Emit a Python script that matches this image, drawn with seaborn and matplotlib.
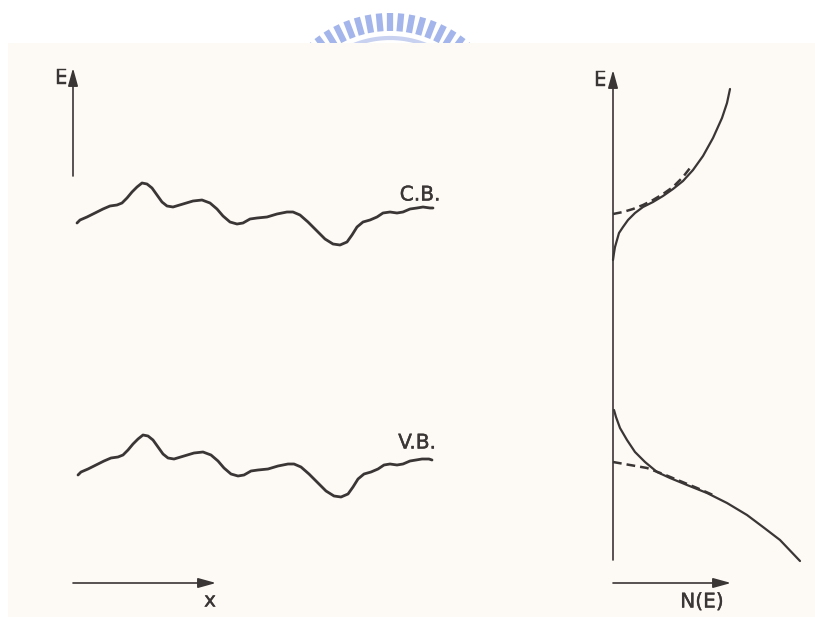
import numpy as np
import pandas as pd
import matplotlib
matplotlib.use("Agg")
import matplotlib.pyplot as plt
import matplotlib.patheffects as pe
import seaborn as sns
from matplotlib.patches import Rectangle

# ---------------- data (pixel units) ----------------
# conduction band edge along x
cb_x = [77, 80, 87, 95, 103, 110, 117, 122, 127, 132, 137, 142, 147, 152, 157,
        162, 167, 173, 183, 193, 202, 210, 217, 223, 230, 237, 243, 250, 257,
        267, 277, 287, 293, 300, 308, 317, 325, 333, 340, 347, 352, 357, 363,
        370, 377, 383, 390, 397, 403, 410, 417, 423, 430, 433]
cb_y = [223, 220, 217, 213, 209, 206, 205, 203, 198, 192, 187, 183, 184, 188,
        195, 202, 206, 207, 204, 201, 200, 203, 209, 216, 222, 224, 223, 219,
        218, 217, 214, 212, 212, 215, 222, 231, 239, 244, 245, 242, 235, 227,
        222, 220, 217, 213, 212, 213, 212, 209, 208, 207, 208, 208]
# valence band edge along x (same fluctuations, lower)
vb_x = [78, 81, 88, 96, 104, 111, 118, 123, 128, 133, 138, 143, 148, 153, 158,
        163, 168, 174, 184, 194, 203, 211, 218, 224, 231, 238, 244, 251, 258,
        268, 278, 288, 294, 301, 309, 318, 326, 334, 341, 348, 353, 358, 364,
        371, 378, 384, 390, 397, 403, 410, 416, 422, 429, 432]
vb_y = [475, 472, 469, 465, 461, 458, 457, 455, 450, 444, 439, 435, 436, 440,
        447, 454, 458, 459, 456, 453, 452, 455, 461, 468, 474, 476, 475, 471,
        470, 469, 466, 464, 464, 467, 474, 483, 491, 496, 497, 494, 487, 479,
        474, 472, 469, 465, 464, 465, 464, 461, 460, 459, 459, 460]

# density of states (right panel): N horizontal, E vertical
cbt_n = [613, 614, 615, 617, 619, 623, 628, 635, 643, 653, 663, 673, 683, 693,
         703, 713, 722, 727, 730]
cbt_e = [260, 253, 247, 240, 233, 227, 220, 213, 207, 202, 196, 189, 181, 170,
         156, 138, 118, 103, 89]
cbp_n = [613, 623, 633, 643, 653, 663, 673, 683, 690]
cbp_e = [214, 212, 209, 205, 200, 194, 187, 177, 168]
vbt_n = [614, 616, 620, 627, 635, 645, 657, 670, 687, 707, 727, 747, 763, 780,
         800]
vbt_e = [410, 417, 428, 440, 452, 462, 472, 478, 485, 493, 503, 515, 527, 540,
         561]
vbp_n = [613, 630, 647, 663, 680, 697, 713]
vbp_e = [462, 465, 468, 474, 481, 488, 495]

labels = {"cb": "C.B.", "vb": "V.B.", "e": "E", "x": "x", "ne": "N(E)"}

# ---------------- figure ----------------
sns.set_theme(style="white")
plt.rcParams["font.family"] = ["DejaVu Sans"]

W, H = 815, 617
fig = plt.figure(figsize=(W / 100, H / 100), dpi=100)
fig.patch.set_facecolor("white")
ax = fig.add_axes([0, 0, 1, 1])
ax.set_xlim(0, W)
ax.set_ylim(H, 0)
ax.axis("off")

ink = "#3b3636"

# watermark arc (logo) at top
cx, cy = 390, 135
for a in np.linspace(np.radians(48), np.radians(132), 17):
    ax.plot([cx + 104 * np.cos(a), cx + 122 * np.cos(a)],
            [cy - 104 * np.sin(a), cy - 122 * np.sin(a)],
            color="#a3b5ea", lw=4.5, solid_capstyle="butt", zorder=1)
aa = np.linspace(np.radians(46), np.radians(134), 80)
ax.plot(cx + 97 * np.cos(aa), cy - 97 * np.sin(aa), color="#c8d2f0", lw=3, zorder=1)

# cream page
ax.add_patch(Rectangle((8, 43), W - 8, H - 43, facecolor="#fdf9f5",
                       edgecolor="none", zorder=2))

# left panel: band edges
for xs, ys in [(cb_x, cb_y), (vb_x, vb_y)]:
    df = pd.DataFrame({"x": xs, "y": ys})
    sns.lineplot(data=df, x="x", y="y", sort=False, estimator=None,
                 color=ink, lw=2.0, ax=ax, zorder=5,
                 solid_joinstyle="round", solid_capstyle="round")

# right panel: DOS curves
for ns, es, dashed in [(cbt_n, cbt_e, False), (cbp_n, cbp_e, True),
                       (vbt_n, vbt_e, False), (vbp_n, vbp_e, True)]:
    df = pd.DataFrame({"n": ns, "e": es})
    if dashed:
        sns.lineplot(data=df, x="n", y="e", sort=False, estimator=None,
                     color=ink, lw=1.8, linestyle=(0, (3.5, 2)),
                     ax=ax, zorder=5)
    else:
        sns.lineplot(data=df, x="n", y="e", sort=False, estimator=None,
                     color=ink, lw=1.6, ax=ax, zorder=5,
                     solid_joinstyle="round", solid_capstyle="round")

ax.set_xlim(0, W)
ax.set_ylim(H, 0)
ax.set_xlabel("")
ax.set_ylabel("")

# axes arrows
arrow_kw = dict(arrowstyle="-|>,head_length=0.9,head_width=0.25",
                color=ink, lw=1.2, shrinkA=0, shrinkB=0)
ax.annotate("", xy=(73, 68), xytext=(73, 176), arrowprops=arrow_kw, zorder=6)
ax.annotate("", xy=(216, 583), xytext=(73, 583), arrowprops=arrow_kw, zorder=6)
ax.annotate("", xy=(613, 70), xytext=(613, 560), arrowprops=arrow_kw, zorder=6)
ax.annotate("", xy=(731, 583), xytext=(613, 583), arrowprops=arrow_kw, zorder=6)

stroke = [pe.withStroke(linewidth=0.3, foreground=ink)]
tkw = dict(color=ink, zorder=7, fontsize=14.5, path_effects=stroke)
ax.text(61, 78, labels["e"], ha="center", va="center", **tkw)
ax.text(600, 80, labels["e"], ha="center", va="center", **tkw)
ax.text(420, 195, labels["cb"], ha="center", va="center", **tkw)
ax.text(417, 443, labels["vb"], ha="center", va="center", **tkw)
ax.text(210, 601, labels["x"], ha="center", va="center", **tkw)
ax.text(702, 602, labels["ne"], ha="center", va="center", **tkw)

fig.savefig("out.png", dpi=100, facecolor="white")
